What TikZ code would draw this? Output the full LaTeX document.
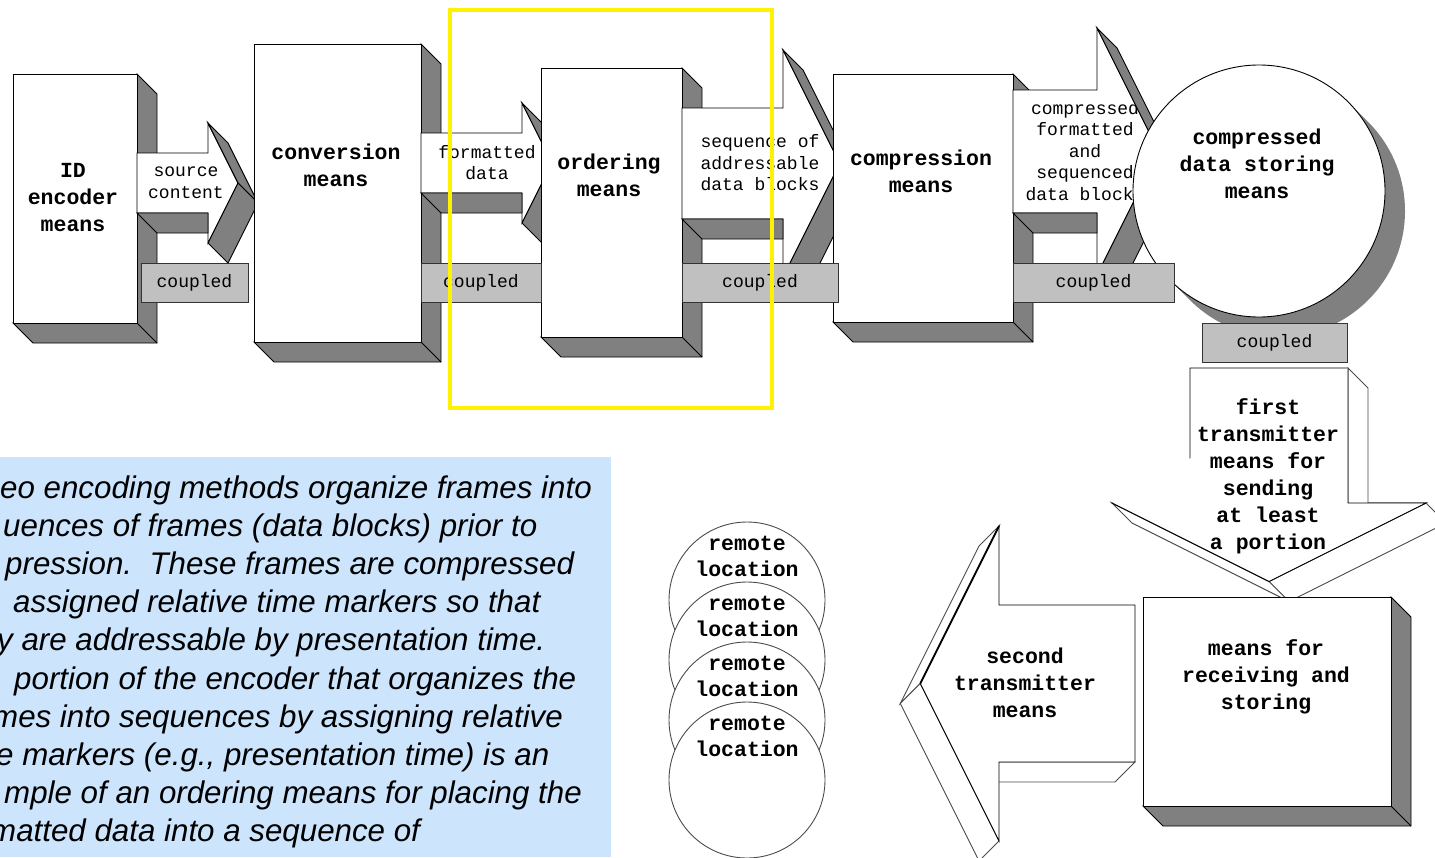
\documentclass[tikz,border=0pt]{standalone}
\usepackage{fontspec}
\setmonofont{Liberation Mono}
\newfontfamily\notefont{Liberation Sans}
\definecolor{sidegray}{RGB}{128,128,128}
\definecolor{bargray}{RGB}{192,192,192}
\definecolor{noteblue}{RGB}{204,228,252}
\tikzset{
  frontface/.style={draw=black,fill=white,line width=0.9pt},
  sideface/.style={draw=black,fill=sidegray,line width=0.9pt},
  flatface/.style={draw=black!70,fill=white,line width=0.9pt},
  couplebar/.style={draw=black!80,fill=bargray,line width=0.9pt,inner sep=0pt,
    font=\fontsize{18}{21.5}\selectfont\ttfamily},
  meanslabel/.style={font=\fontsize{21.5}{27}\selectfont\ttfamily\bfseries,align=center,inner sep=0pt},
  flowlabel/.style={font=\fontsize{18}{21.5}\selectfont\ttfamily,align=center,inner sep=0pt},
  notetext/.style={font=\fontsize{31.3}{38}\selectfont\notefont\itshape,inner sep=0pt,anchor=base west},
}
% block with depth 20 to the lower right
\newcommand*\slab[4]{%
  \draw[sideface] (#3,#2) -- (#3+20,#2+20) -- (#3+20,#4+20) -- (#1+20,#4+20) -- (#1,#4) -- (#3,#4) -- cycle;
  \draw[line width=0.9pt] (#3,#4) -- (#3+20,#4+20);
  \draw[frontface] (#1,#2) rectangle (#3,#4);}
% right arrow: start, body top, body bottom, head back, head half height, name, label pos, label
\newcommand*\rightflow[8]{%
  \pgfmathsetmacro\ymid{(#2+#3)/2}
  \pgfmathsetmacro\yhi{\ymid-#5}
  \pgfmathsetmacro\ylo{\ymid+#5}
  \pgfmathsetmacro\xtip{#4+#5/2}
  \draw[frontface] (#1,#2) -- (#4,#2) -- (#4,\yhi) -- (\xtip,\ymid) -- (#4,\ylo) -- (#4,#3) -- (#1,#3) -- cycle;
  \node[flowlabel] (#6) at (#7) {#8};
  \draw[sideface] (#1,#3) -- (#4,#3) -- (#4,#3+20) -- (#1+20,#3+20) -- cycle;
  \draw[sideface] (#4,\yhi) -- (\xtip,\ymid) -- (\xtip+20,\ymid+20) -- (#4+20,\yhi+20) -- cycle;
  \draw[sideface] (\xtip,\ymid) -- (#4,\ylo) -- (#4+20,\ylo+20) -- (\xtip+20,\ymid+20) -- cycle;}

\begin{document}
\begin{tikzpicture}[x=1pt,y=-1pt]
\useasboundingbox (0,0) rectangle (1435,857);

% explanation panel
\fill[noteblue] (0,457) rectangle (611,857);
\begin{scope}
  \clip (0,457) rectangle (611,857);
  \foreach \dx/\txt [count=\i] in {0/{eo encoding methods organize frames into},
      3/{uences of frames (data blocks) prior to},
      5/{pression.\ \ These frames are compressed},
      13/{assigned relative time markers so that},
      -3/{y are addressable by presentation time.},
      14/{portion of the encoder that organizes the},
      -8/{mes into sequences by assigning relative},
      -4/{e markers (e.g., presentation time) is an},
      4/{mple of an ordering means for placing the},
      -10/{matted data into a sequence of}}
    \node[notetext] (note\i) at (\dx,498+38.2*\i-38.2) {\txt};
\end{scope}

% top row
\slab{13}{74}{137}{323}
\node[meanslabel] (idenc) at (73,197.5) {ID\\encoder\\means};
\rightflow{137}{153}{213}{208}{60}{src}{186,182.5}{source\\content}

\slab{254}{44}{421}{342}
\node[meanslabel] (conv) at (336,165.5) {conversion\\means};
\rightflow{421}{133}{193}{522}{60}{fmt}{487,162.5}{formatted\\data}

\slab{541}{68}{682}{337}
\node[meanslabel] (order) at (609,175.5) {ordering\\means};
\rightflow{682}{108}{219}{783}{113.5}{seq}{760,163}{sequence of\\addressable\\data blocks}

\slab{833}{74}{1013}{322}
\node[meanslabel] (comp) at (921,171.5) {compression\\means};
\rightflow{1013}{90}{213}{1097}{123.5}{cfs}{1085,151}{compressed\\formatted\\and\\sequenced\\data blocks}

% storing drum
\fill[sidegray] (1279,211) circle[radius=126];
\fill[sidegray] (1269,201) circle[radius=126];
\draw[frontface] (1259,191) circle[radius=126];
\node[meanslabel] (store) at (1257,163.5) {compressed\\data storing\\means};

% coupled bars
\foreach \cx/\cy/\w/\h [count=\i] in {194.5/282.5/107/39, 481/282.5/120/39,
    760/282.5/156/39, 1093.5/282.5/161/39, 1274.5/342.5/145/39}
  \node[couplebar,minimum width=\w pt,minimum height=\h pt] (cpl\i) at (\cx,\cy) {coupled};

% first transmitter, pointing down
\draw[frontface] (1190,368) -- (1348,368) -- (1348,503) -- (1426,503) -- (1269,581.5) -- (1112,503) -- (1190,503) -- cycle;
\draw[flatface] (1348,368) -- (1368,388) -- (1368,523) -- (1348,503) -- cycle;
\draw[flatface] (1426,503) -- (1446,523) -- (1289,601.5) -- (1269,581.5) -- cycle;
\draw[flatface] (1112,503) -- (1132,523) -- (1289,601.5) -- (1269,581.5) -- cycle;
\draw[frontface] (1348,368) -- (1348,503) -- (1426,503) -- (1269,581.5) -- (1112,503);
\node[meanslabel] (firsttx) at (1268,476) {first\\transmitter\\means for\\sending\\at least\\a portion};

% receiving box
\slab{1143}{597}{1391}{806}
\node[meanslabel] (recv) at (1266,676.5) {means for\\receiving and\\storing};

% second transmitter, pointing left
\draw[flatface] (999,762) -- (1135,762) -- (1115,782) -- (979,782) -- cycle;
\draw[flatface] (999,526) -- (920.25,683.5) -- (900.25,703.5) -- (979,546) -- cycle;
\draw[flatface] (920.25,683.5) -- (999,841) -- (979,861) -- (900.25,703.5) -- cycle;
\draw[frontface] (1135,605) -- (999,605) -- (999,526) -- (920.25,683.5) -- (999,841) -- (999,762) -- (1135,762) -- cycle;
\draw[line width=1.8pt] (999,526) -- (920.25,683.5);
\node[meanslabel] (secondtx) at (1025,682.5) {second\\transmitter\\means};

% remote locations
\foreach \cy [count=\i] in {600,660,720,780} {
  \draw[flatface] (747,\cy) circle[radius=78];
  \node[meanslabel,font=\fontsize{21.5}{26}\selectfont\ttfamily\bfseries] (site\i) at (747,\cy-44) {remote\\location};
}

% highlight
\draw[yellow,line width=4.5pt] (450,10) rectangle (772,408);
\end{tikzpicture}
\end{document}
